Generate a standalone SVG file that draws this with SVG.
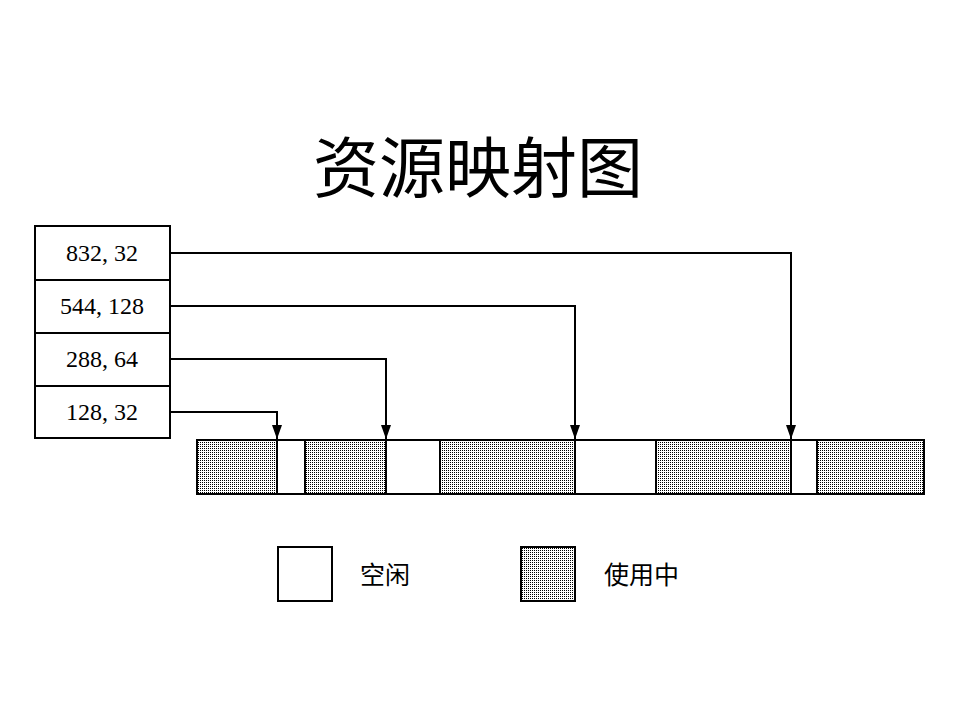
<svg xmlns="http://www.w3.org/2000/svg" width="959" height="719" viewBox="0 0 959 719">
<defs>
<pattern id="dots" x="0" y="0" width="2" height="2" patternUnits="userSpaceOnUse">
<rect x="0" y="0" width="2" height="2" fill="#fff"/>
<rect x="0" y="0" width="1" height="1" fill="#000"/>
</pattern>
<marker id="arr" viewBox="0 0 14 10" refX="14" refY="5" markerWidth="14" markerHeight="10" markerUnits="userSpaceOnUse" orient="auto">
<path d="M0,0 L14,5 L0,10 Z" fill="#000"/>
</marker>
<style>
.box{fill:#fff;stroke:#000;stroke-width:2}
.used{fill:url(#dots);stroke:#000;stroke-width:2}
.num{font-family:"Liberation Serif","Times New Roman",serif;font-size:24px;text-anchor:middle;fill:#000}
.cjk{font-family:"Noto Sans CJK SC",sans-serif;fill:#000}
.conn{fill:none;stroke:#000;stroke-width:2}
</style>
</defs>
<rect width="959" height="719" fill="#fff"/>
<text id="title" class="cjk" x="478" y="192" font-size="66" text-anchor="middle">资源映射图</text>
<g id="table">
<g id="r1"><rect class="box" x="35" y="226" width="135" height="54"/><text class="num" x="102" y="261">832, 32</text></g>
<g id="r2"><rect class="box" x="35" y="280" width="135" height="53"/><text class="num" x="102" y="314">544, 128</text></g>
<g id="r3"><rect class="box" x="35" y="333" width="135" height="53"/><text class="num" x="102" y="367">288, 64</text></g>
<g id="r4"><rect class="box" x="35" y="386" width="135" height="52"/><text class="num" x="102" y="420">128, 32</text></g>
</g>
<g id="bar">
<rect class="used" x="197" y="440" width="80" height="54"/>
<rect class="box" x="277" y="440" width="28" height="54"/>
<rect class="used" x="305" y="440" width="81" height="54"/>
<rect class="box" x="386" y="440" width="54" height="54"/>
<rect class="used" x="440" y="440" width="135" height="54"/>
<rect class="box" x="575" y="440" width="81" height="54"/>
<rect class="used" x="656" y="440" width="135" height="54"/>
<rect class="box" x="791" y="440" width="26" height="54"/>
<rect class="used" x="817" y="440" width="107" height="54"/>
</g>
<g id="connectors">
<path class="conn" d="M170,253 H791 V439" marker-end="url(#arr)"/>
<path class="conn" d="M170,306 H575 V439" marker-end="url(#arr)"/>
<path class="conn" d="M170,359 H386 V439" marker-end="url(#arr)"/>
<path class="conn" d="M170,412 H277 V439" marker-end="url(#arr)"/>
</g>
<g id="legend-free"><rect class="box" x="278" y="547" width="54" height="54"/><text class="cjk" x="360" y="584" font-size="25">空闲</text></g>
<g id="legend-used"><rect class="used" x="521" y="547" width="54" height="54"/><text class="cjk" x="604" y="584" font-size="25">使用中</text></g>
</svg>
